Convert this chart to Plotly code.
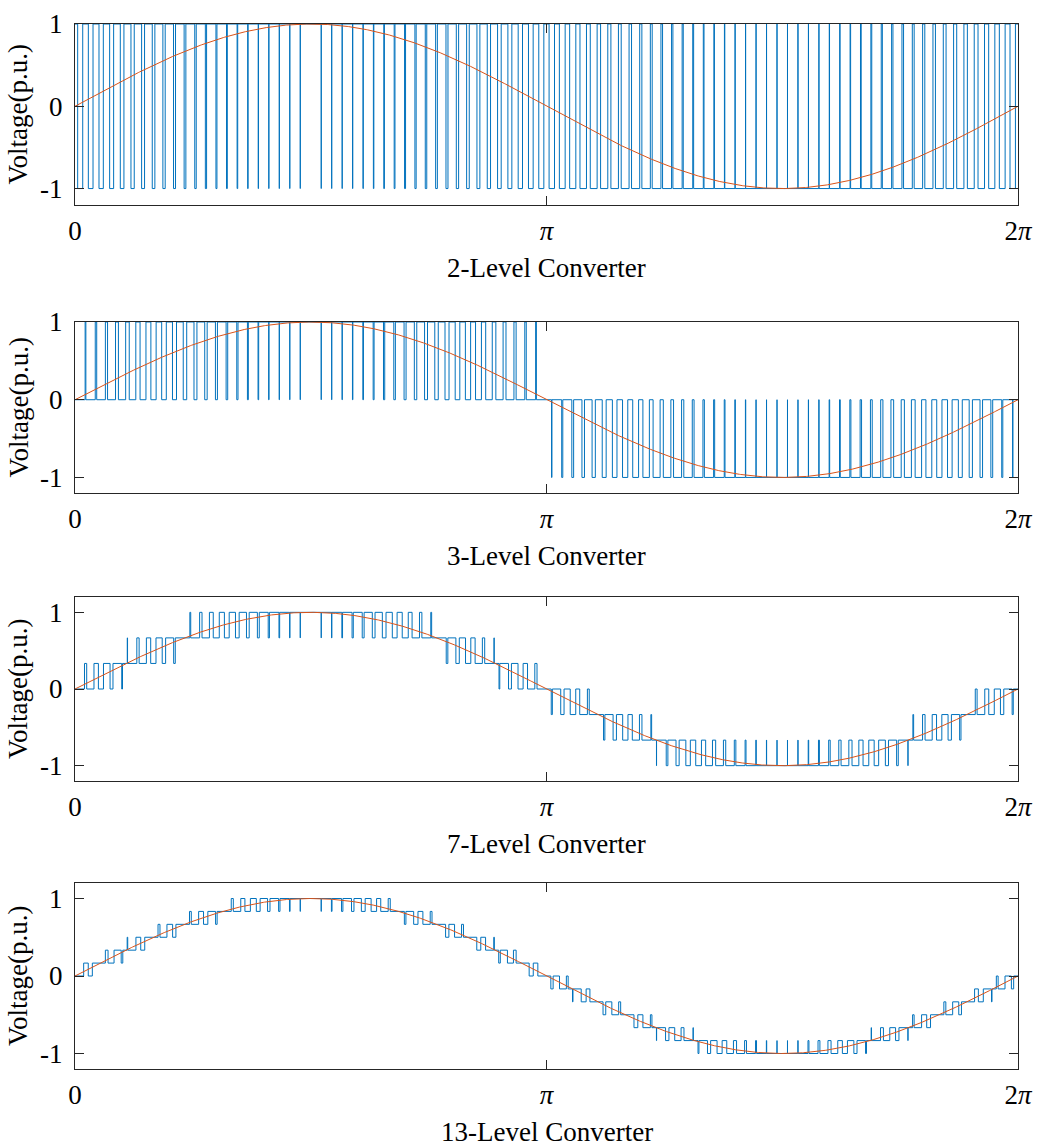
import numpy as np
import plotly.graph_objects as go

# ---- data ----
levels = [2, 3, 7, 13]
titles = ["2-Level Converter", "3-Level Converter", "7-Level Converter", "13-Level Converter"]
carrier_ratio = 90            # carrier periods per fundamental cycle (read from pulse count)
mod_index = 1.0
y_ranges = [[-1.2, 1.0], [-1.2, 1.0], [-1.2, 1.2], [-1.2, 1.2]]
x_tickvals = [0, np.pi, 2 * np.pi]
x_ticktext = ["0", "<i>π</i>", "2<i>π</i>"]
y_tickvals = [-1, 0, 1]
y_ticktext = ["-1", "0", "1"]

BLUE = "#0072BD"
ORANGE = "#D95319"
AX = "#262626"
FONT = "Liberation Serif"
FS = 27

W, H = 1037, 1146
x_px = (75, 1018)
y_px = [(24, 205), (322, 493), (597, 781), (883, 1069)]


def pwm_wave(L):
    t = np.linspace(0, 2 * np.pi, 400001)
    ref = mod_index * np.sin(t)
    h = 2.0 / (L - 1)
    p = (t * carrier_ratio / (2 * np.pi)) % 1.0
    tri = 1.0 - np.abs(2.0 * p - 1.0)
    count = np.zeros_like(t)
    for k in range(L - 1):
        count += (ref > (-1 + k * h + h * tri)).astype(float)
    out = -1 + h * count
    idx = np.where(np.diff(out) != 0)[0] + 1
    xs = np.concatenate([[t[0]], t[idx], [t[-1]]])
    ys = np.concatenate([[out[0]], out[idx], [out[-1]]])
    return xs, ys


fig = go.Figure()
ts = np.linspace(0, 2 * np.pi, 1200)
annotations = []
for i, L in enumerate(levels):
    n = "" if i == 0 else str(i + 1)
    xs, ys = pwm_wave(L)
    fig.add_trace(go.Scatter(x=xs, y=ys, mode="lines", line=dict(color=BLUE, width=1, shape="hv"),
                             xaxis="x" + n, yaxis="y" + n, showlegend=False, hoverinfo="skip"))
    fig.add_trace(go.Scatter(x=ts, y=mod_index * np.sin(ts), mode="lines", line=dict(color=ORANGE, width=1),
                             xaxis="x" + n, yaxis="y" + n, showlegend=False, hoverinfo="skip"))
    top, bot = y_px[i]
    ydom = [1 - bot / H, 1 - top / H]
    xdom = [x_px[0] / W, x_px[1] / W]
    common = dict(showline=True, linecolor=AX, linewidth=1, mirror="allticks", ticks="inside",
                  ticklen=9, tickcolor=AX, tickwidth=1, showgrid=False, zeroline=False,
                  automargin=False, tickfont=dict(family=FONT, size=FS, color="black"))
    fig.layout["xaxis" + n] = dict(domain=xdom, range=[0, 2 * np.pi], anchor="y" + n,
                                   tickmode="array", tickvals=x_tickvals, ticktext=x_ticktext,
                                   ticklabelstandoff=2, **common)
    fig.layout["yaxis" + n] = dict(domain=ydom, range=y_ranges[i], anchor="x" + n,
                                   tickmode="array", tickvals=y_tickvals, ticktext=y_ticktext,
                                   ticklabelstandoff=6, **common)
    annotations.append(dict(text=titles[i], xref="paper", yref="paper",
                            x=(x_px[0] + x_px[1]) / 2 / W, y=1 - (bot + 63) / H,
                            xanchor="center", yanchor="middle", showarrow=False,
                            font=dict(family=FONT, size=FS, color="black")))
    annotations.append(dict(text="Voltage(p.u.)", xref="paper", yref="paper",
                            x=18 / W, y=1 - ((top + bot) / 2) / H, textangle=-90,
                            xanchor="center", yanchor="middle", showarrow=False,
                            font=dict(family=FONT, size=FS, color="black")))

fig.update_layout(width=W, height=H, margin=dict(l=0, r=0, t=0, b=0),
                  paper_bgcolor="white", plot_bgcolor="white", annotations=annotations)
fig.write_html("out.html")
